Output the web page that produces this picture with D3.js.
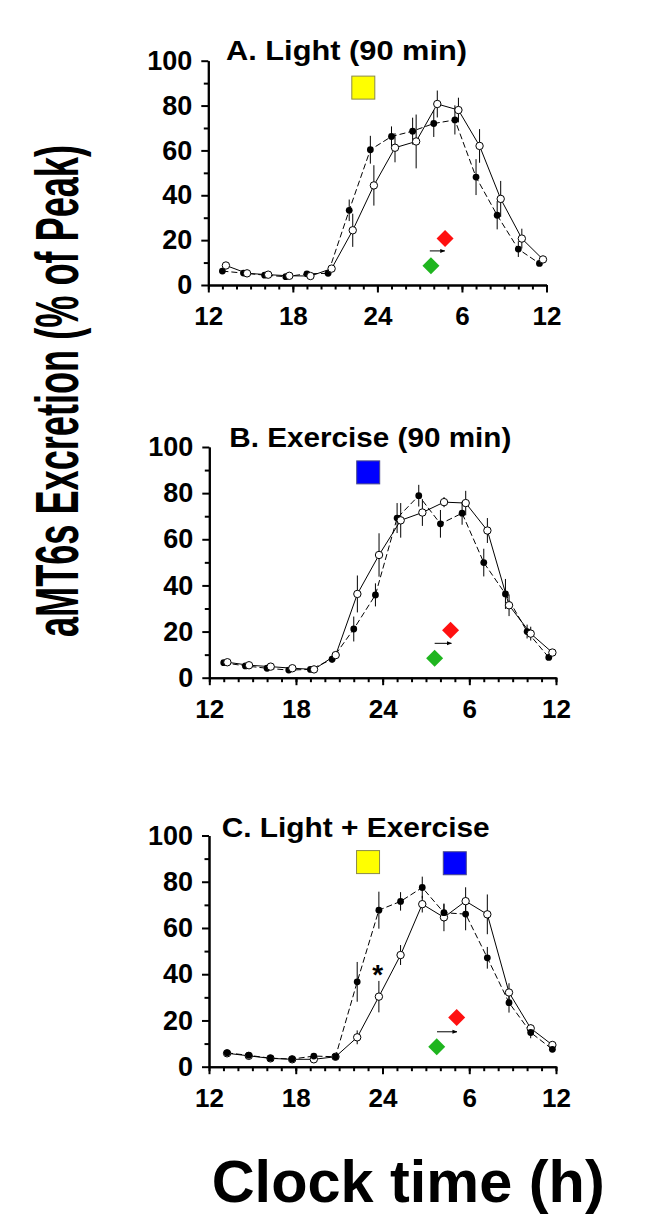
<!DOCTYPE html>
<html><head><meta charset="utf-8">
<script src="https://cdn.jsdelivr.net/npm/d3@7"></script>
<style>
html,body{margin:0;padding:0;background:#fff;}
svg{display:block;}
text{font-family:"Liberation Sans",Arial,sans-serif;font-weight:bold;fill:#000;}
</style></head>
<body>
<svg id="chart" width="649" height="1227"></svg>
<script>
// ---------------- DATA ----------------
const panelTitles = ["A. Light (90 min)", "B. Exercise (90 min)", "C. Light + Exercise"];
const xTickValues = [12, 18, 24, 30, 36];
const xTickLabels = ["12", "18", "24", "6", "12"];
const yTickValues = [0, 20, 40, 60, 80, 100];
const yLabel = "aMT6s Excretion (% of Peak)";
const xLabel = "Clock time (h)";

// sampling clock times (h, 24 = midnight)
const timesFilledA = [13, 14.5, 16, 17.5, 19, 20.5, 22, 23.5, 25, 26.5, 28, 29.5, 31, 32.5, 34, 35.5];
const timesOpenA   = [13.25, 14.75, 16.25, 17.75, 19.25, 20.75, 22.25, 23.75, 25.25, 26.75, 28.25, 29.75, 31.25, 32.75, 34.25, 35.75];
const timesFilledB = [13, 14.5, 16, 17.5, 19, 20.5, 22, 23.5, 25, 26.5, 28, 29.5, 31, 32.5, 34, 35.5];
const timesOpenB   = [13.25, 14.75, 16.25, 17.75, 19.25, 20.75, 22.25, 23.75, 25.25, 26.75, 28.25, 29.75, 31.25, 32.75, 34.25, 35.75];
const timesFilledC = [13.25, 14.75, 16.25, 17.75, 19.25, 20.75, 22.25, 23.75, 25.25, 26.75, 28.25, 29.75, 31.25, 32.75, 34.25, 35.75];
const timesOpenC   = [13.25, 14.75, 16.25, 17.75, 19.25, 20.75, 22.25, 23.75, 25.25, 26.75, 28.25, 29.75, 31.25, 32.75, 34.25, 35.75];

// Panel A: Light
const filledA    = [6.2, 5.3, 4.4, 3.7, 5.0, 5.2, 33.3, 60.3, 66.2, 68.6, 72.0, 73.6, 48.1, 31.1, 16.0, 9.6];
const filledErrA = [1.0, 0.8, 0.6, 0.6, 0.8, 1.0, 4.8, 6.2, 4.5, 6.0, 6.0, 6.5, 8.0, 6.3, 3.5, 1.0];
const openA      = [8.7, 5.2, 4.6, 4.1, 4.0, 7.3, 24.4, 44.4, 61.2, 64.0, 80.7, 78.0, 62.0, 38.4, 20.7, 11.4];
const openErrA   = [1.0, 0.8, 0.6, 0.6, 0.6, 1.0, 7.4, 9.0, 6.5, 12.0, 6.0, 5.5, 7.5, 8.0, 4.4, 1.5];
// Panel B: Exercise
const filledB    = [6.5, 5.1, 4.1, 3.3, 3.6, 8.0, 21.1, 35.9, 69.2, 78.9, 66.7, 71.3, 49.9, 36.3, 20.0, 8.8];
const filledErrB = [0.8, 0.8, 0.6, 0.6, 0.6, 1.5, 5.4, 5.0, 6.5, 4.7, 6.0, 5.0, 6.0, 6.5, 3.0, 1.0];
const openB      = [6.7, 5.4, 4.8, 4.1, 3.6, 9.8, 36.3, 53.2, 68.2, 71.6, 76.1, 75.7, 63.8, 31.4, 19.1, 10.9];
const openErrB   = [0.8, 0.8, 0.6, 0.6, 0.6, 1.5, 8.0, 9.4, 7.5, 5.8, 2.2, 5.3, 5.4, 4.7, 3.0, 1.5];
// Panel C: Light + Exercise
const filledC    = [6.0, 4.9, 3.7, 3.3, 4.6, 4.3, 36.7, 67.7, 71.5, 77.5, 66.6, 66.0, 47.1, 27.7, 14.8, 7.5];
const filledErrC = [0.6, 0.6, 0.5, 0.5, 0.6, 0.8, 8.6, 8.0, 4.0, 4.7, 3.7, 7.0, 4.7, 4.3, 2.5, 1.0];
const openC      = [5.8, 4.7, 3.6, 3.2, 3.2, 4.3, 12.7, 30.3, 48.3, 70.3, 64.6, 71.6, 65.9, 32.1, 16.6, 9.4];
const openErrC   = [0.6, 0.6, 0.5, 0.5, 0.6, 0.8, 3.0, 6.8, 4.3, 3.6, 6.0, 6.0, 8.6, 4.0, 1.8, 1.0];

// stimulus markers (hour, value)
const lightMarkers    = [[23, 88], null, [23, 88.5]];
const exerciseMarkers = [null, [23, 89], [29, 88]];
// phase markers: baseline (green) and shifted (red), arrow between
const greenHour = [27.8, 27.6, 27.75];
const greenVal  = [8.6, 8.4, 8.6];
const redHour   = [28.8, 28.7, 29.13];
const redVal    = [20.7, 20.6, 21.3];
const arrowFrom = [27.72, 27.6, 27.77];
const arrowTo   = [28.78, 28.76, 29.15];
const arrowVal  = [15.2, 14.9, 15.1];
// significance
const asteriskPanelC = [23.67, 41];

// ---------------- LAYOUT ----------------
const layout = [
  {x0: 208.3, x1: 546.5, yTop: 60.7, yBot: 285, tx: 226, ty: 60, tw: 241, openOnTop: true},
  {x0: 209.3, x1: 556, yTop: 447, yBot: 677.7, tx: 229.3, ty: 446.7, tw: 282, openOnTop: true},
  {x0: 209, x1: 556, yTop: 835.5, yBot: 1066.7, tx: 221.7, ty: 836.7, tw: 268, openOnTop: false}
];
const series = [
  {tf: timesFilledA, f: filledA, fe: filledErrA, to: timesOpenA, o: openA, oe: openErrA},
  {tf: timesFilledB, f: filledB, fe: filledErrB, to: timesOpenB, o: openB, oe: openErrB},
  {tf: timesFilledC, f: filledC, fe: filledErrC, to: timesOpenC, o: openC, oe: openErrC}
];

const svg = d3.select("#chart");
const defs = svg.append("defs");
defs.append("marker").attr("id", "arr").attr("viewBox", "0 0 10 10")
  .attr("refX", 9).attr("refY", 5).attr("markerWidth", 5).attr("markerHeight", 5)
  .attr("orient", "auto").append("path").attr("d", "M0,1 L10,5 L0,9 Z").attr("fill", "#000");

layout.forEach((L, i) => {
  const s = series[i];
  const x = d3.scaleLinear().domain([12, 36]).range([L.x0, L.x1]);
  const y = d3.scaleLinear().domain([0, 100]).range([L.yBot, L.yTop]);
  const g = svg.append("g");

  // y axis: minor + major
  g.append("g").attr("transform", `translate(${L.x0},0)`)
    .call(d3.axisLeft(y).tickValues(d3.range(10, 100, 20)).tickSize(4.5).tickSizeOuter(0).tickFormat(""));
  const yMajor = g.append("g").attr("transform", `translate(${L.x0},0)`)
    .call(d3.axisLeft(y).tickValues(yTickValues).tickSize(7).tickSizeOuter(0).tickPadding(9));
  yMajor.selectAll("text").style("font-size", "27px");
  // x axis: minor + major
  g.append("g").attr("transform", `translate(0,${L.yBot})`)
    .call(d3.axisBottom(x).tickValues(d3.range(12, 37, 1)).tickSize(4.5).tickSizeOuter(0).tickFormat(""));
  const xMajor = g.append("g").attr("transform", `translate(0,${L.yBot})`)
    .call(d3.axisBottom(x).tickValues(xTickValues).tickSize(7.5).tickSizeOuter(0).tickPadding(14.5)
      .tickFormat((d, k) => xTickLabels[k]));
  xMajor.selectAll("text").style("font-size", "26px");
  g.selectAll(".domain").attr("stroke", "#000").attr("stroke-width", 2);
  g.selectAll(".tick line").attr("stroke", "#000").attr("stroke-width", 2);

  // title
  g.append("text").attr("x", L.tx).attr("y", L.ty).style("font-size", "27px")
    .attr("textLength", L.tw).attr("lengthAdjust", "spacingAndGlyphs").text(panelTitles[i]);

  // stimulus squares
  const sq = 23;
  if (lightMarkers[i]) {
    const [h, v] = lightMarkers[i];
    g.append("rect").attr("x", x(h) - sq / 2).attr("y", y(v) - sq / 2).attr("width", sq).attr("height", sq)
      .attr("fill", "#ffff00").attr("stroke", "#8a8a4a").attr("stroke-width", 1);
  }
  if (exerciseMarkers[i]) {
    const [h, v] = exerciseMarkers[i];
    g.append("rect").attr("x", x(h) - sq / 2).attr("y", y(v) - sq / 2).attr("width", sq).attr("height", sq)
      .attr("fill", "#0000ff").attr("stroke", "#4a4a8a").attr("stroke-width", 1);
  }

  // phase diamonds + arrow
  const dsz = 8.5;
  const diamond = (cx, cy) => `M${cx},${cy - dsz} L${cx + dsz},${cy} L${cx},${cy + dsz} L${cx - dsz},${cy} Z`;
  g.append("path").attr("d", diamond(x(greenHour[i]), y(greenVal[i]))).attr("fill", "#1fb51f");
  g.append("path").attr("d", diamond(x(redHour[i]), y(redVal[i]))).attr("fill", "#ff1010");
  g.append("line").attr("x1", x(arrowFrom[i])).attr("x2", x(arrowTo[i]))
    .attr("y1", y(arrowVal[i])).attr("y2", y(arrowVal[i]))
    .attr("stroke", "#000").attr("stroke-width", 1).attr("marker-end", "url(#arr)");

  // error bars
  const eb = (t, v, e) => g.append("g").selectAll("line").data(v).join("line")
    .attr("x1", (d, k) => x(t[k])).attr("x2", (d, k) => x(t[k]))
    .attr("y1", (d, k) => y(d - e[k])).attr("y2", (d, k) => y(d + e[k]))
    .attr("stroke", "#000").attr("stroke-width", 1);
  eb(s.tf, s.f, s.fe);
  eb(s.to, s.o, s.oe);

  // lines
  const line = (t) => d3.line().x((d, k) => x(t[k])).y(d => y(d));
  g.append("path").attr("d", line(s.to)(s.o)).attr("fill", "none").attr("stroke", "#000").attr("stroke-width", 1);
  g.append("path").attr("d", line(s.tf)(s.f)).attr("fill", "none").attr("stroke", "#000").attr("stroke-width", 1)
    .attr("stroke-dasharray", "6,3");

  const drawFilled = () => g.append("g").selectAll("circle").data(s.f).join("circle")
    .attr("cx", (d, k) => x(s.tf[k])).attr("cy", d => y(d)).attr("r", 3.4).attr("fill", "#000");
  const drawOpen = () => g.append("g").selectAll("circle").data(s.o).join("circle")
    .attr("cx", (d, k) => x(s.to[k])).attr("cy", d => y(d)).attr("r", 3.7)
    .attr("fill", "#fff").attr("stroke", "#000").attr("stroke-width", 1);
  if (L.openOnTop) { drawFilled(); drawOpen(); } else { drawOpen(); drawFilled(); }

  if (i === 2) {
    g.append("text").attr("x", x(asteriskPanelC[0])).attr("y", y(asteriskPanelC[1]) + 12)
      .attr("text-anchor", "middle").style("font-size", "28px").text("*");
  }
});

// axis titles
svg.append("text").attr("transform", "translate(78,391) rotate(-90) scale(1,1.69)").attr("text-anchor", "middle")
  .style("font-size", "36px").attr("textLength", 492).attr("lengthAdjust", "spacingAndGlyphs").text(yLabel);
svg.append("text").attr("x", 211.7).attr("y", 1201.7).style("font-size", "60px")
  .attr("textLength", 393).attr("lengthAdjust", "spacingAndGlyphs").text(xLabel);
</script>
</body></html>
